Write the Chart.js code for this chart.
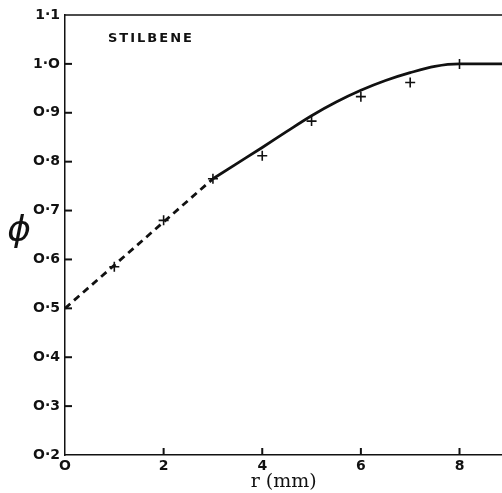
<!DOCTYPE html>
<html>
<head>
<meta charset="utf-8">
<script src="https://cdn.jsdelivr.net/npm/chart.js@4.4.1/dist/chart.umd.min.js"></script>
<style>
  html, body { margin: 0; padding: 0; background: #fff; overflow: hidden; width: 502px; height: 493px; }
  #wrap { width: 509px; height: 493px; position: relative; }
</style>
</head>
<body>
<div id="wrap"><canvas id="c"></canvas></div>
<script>
// ---- data ----
const pointX = [1, 2, 3, 4, 5, 6, 7, 8];
const pointY = [0.585, 0.68, 0.765, 0.812, 0.883, 0.933, 0.962, 1.0];

const dashedX = [0, 3];
const dashedY = [0.5, 0.765];

const solidX = [3, 3.5, 4, 4.5, 5, 5.5, 6, 6.5, 7, 7.5, 8, 8.9];
const solidY = [0.765, 0.797, 0.829, 0.862, 0.894, 0.922, 0.946, 0.966, 0.982, 0.995, 1.0, 1.0];

const xTickValues = [0, 2, 4, 6, 8];
const xTickLabels = ['O', '2', '4', '6', '8'];
const yTickValues = [0.2, 0.3, 0.4, 0.5, 0.6, 0.7, 0.8, 0.9, 1.0, 1.1];
const yTickLabels = ['O·2', 'O·3', 'O·4', 'O·5', 'O·6', 'O·7', 'O·8', 'O·9', '1·O', '1·1'];

const xTitle = 'r (mm)';
const yTitle = 'ϕ';
const panelLabel = 'STILBENE';

const toXY = (xs, ys) => xs.map((x, i) => ({ x: x, y: ys[i] }));

const labelFont = { family: 'DejaVu Sans', size: 14, weight: 'bold' };

const decor = {
  id: 'decor',
  afterDraw(chart) {
    const ctx = chart.ctx;
    const a = chart.chartArea;
    const xs = chart.scales.x, ys = chart.scales.y;
    ctx.save();
    ctx.strokeStyle = '#111';
    ctx.lineWidth = 1.5;
    // top frame line
    ctx.beginPath();
    ctx.moveTo(a.left, a.top);
    ctx.lineTo(a.right, a.top);
    ctx.stroke();
    // inward ticks
    ctx.lineWidth = 2;
    yTickValues.forEach(v => {
      if (v <= 0.2 || v >= 1.1) return;
      const py = ys.getPixelForValue(v);
      ctx.beginPath();
      ctx.moveTo(a.left, py);
      ctx.lineTo(a.left + 7, py);
      ctx.stroke();
    });
    xTickValues.forEach(v => {
      if (v === 0) return;
      const px = xs.getPixelForValue(v);
      ctx.beginPath();
      ctx.moveTo(px, a.bottom);
      ctx.lineTo(px, a.bottom - 7);
      ctx.stroke();
    });
    // panel label
    ctx.fillStyle = '#111';
    ctx.font = 'bold 13px "DejaVu Sans"';
    ctx.textAlign = 'left';
    ctx.textBaseline = 'middle';
    if ('letterSpacing' in ctx) ctx.letterSpacing = '2px';
    ctx.fillText(panelLabel, 108, 39);
    if ('letterSpacing' in ctx) ctx.letterSpacing = '0px';
    // y title
    ctx.font = 'oblique 36px "DejaVu Sans"';
    ctx.textAlign = 'center';
    ctx.fillText(yTitle, 19, 232);
    ctx.restore();
  }
};

new Chart(document.getElementById('c'), {
  type: 'scatter',
  data: {
    datasets: [
      {
        type: 'line',
        data: toXY(dashedX, dashedY),
        borderColor: '#111',
        borderWidth: 2.8,
        borderDash: [7, 5],
        pointRadius: 0,
        fill: false
      },
      {
        type: 'line',
        data: toXY(solidX, solidY),
        borderColor: '#111',
        borderWidth: 2.8,
        pointRadius: 0,
        cubicInterpolationMode: 'monotone',
        fill: false
      },
      {
        data: toXY(pointX, pointY),
        pointStyle: 'cross',
        pointRadius: 5,
        pointBorderWidth: 1.6,
        borderColor: '#111',
        backgroundColor: '#111'
      }
    ]
  },
  options: {
    responsive: true,
    maintainAspectRatio: false,
    animation: false,
    layout: { padding: { top: 15, right: 0, left: 0, bottom: 0 } },
    plugins: { legend: { display: false }, tooltip: { enabled: false } },
    scales: {
      x: {
        type: 'linear',
        min: 0,
        max: 8.87,
        afterBuildTicks(scale) { scale.ticks = xTickValues.map(v => ({ value: v })); },
        afterFit(scale) { scale.height = 38; },
        ticks: {
          color: '#111',
          font: labelFont,
          padding: 3,
          maxRotation: 0,
          callback: (v) => { const i = xTickValues.indexOf(v); return i >= 0 ? xTickLabels[i] : ''; }
        },
        grid: { display: true, drawOnChartArea: false, drawTicks: false },
        border: { display: true, color: '#111', width: 1.5 },
        title: { display: true, text: xTitle, color: '#111', font: { family: 'DejaVu Serif', size: 19 }, padding: { top: 0, bottom: 0 } }
      },
      y: {
        type: 'linear',
        min: 0.2,
        max: 1.1,
        afterBuildTicks(scale) { scale.ticks = yTickValues.map(v => ({ value: v })); },
        afterFit(scale) { scale.width = 65; },
        ticks: {
          color: '#111',
          font: labelFont,
          padding: 5,
          callback: (v) => { const i = yTickValues.findIndex(t => Math.abs(t - v) < 1e-6); return i >= 0 ? yTickLabels[i] : ''; }
        },
        grid: { display: true, drawOnChartArea: false, drawTicks: false },
        border: { display: true, color: '#111', width: 1.5 }
      }
    }
  },
  plugins: [decor]
});
</script>
</body>
</html>
